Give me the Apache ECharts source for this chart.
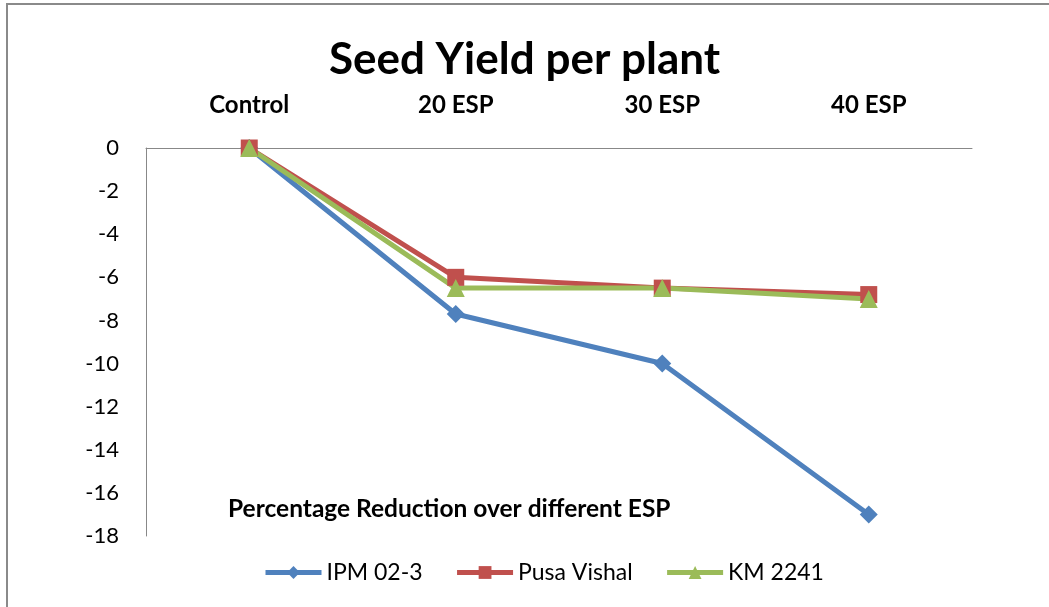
<!DOCTYPE html>
<html>
<head>
<meta charset="utf-8">
<script src="https://cdn.jsdelivr.net/npm/echarts@6/dist/echarts.min.js"></script>
<style>
html,body{margin:0;padding:0;background:#fff;}
#chart{width:1049px;height:607px;}
</style>
</head>
<body>
<div id="chart"></div>
<script>
const categories = ['Control', '20 ESP', '30 ESP', '40 ESP'];
const ipm023 = [0, -7.7, -10.0, -17.0];
const pusaVishal = [0, -6.0, -6.5, -6.8];
const km2241 = [0, -6.5, -6.5, -7.0];
const seriesNames = ['IPM 02-3', 'Pusa Vishal', 'KM 2241'];

const FONT = 'Lato';
const chart = echarts.init(document.getElementById('chart'), null, {renderer: 'canvas'});
const mk = (name, data, color, symbol, size) => ({
  name, type: 'line', data,
  symbol, symbolSize: size,
  lineStyle: {color, width: 5},
  itemStyle: {color},
  emphasis: {disabled: true},
  animation: false
});
chart.setOption({
  backgroundColor: '#fff',
  animation: false,
  textStyle: {fontFamily: FONT},
  title: {
    text: 'Seed Yield per plant',
    left: 'center', top: 33,
    textStyle: {fontFamily: FONT, fontSize: 44, fontWeight: 'bold', color: '#000'}
  },
  graphic: [
    {type: 'rect', shape: {x: 7, y: 4, width: 1100, height: 700},
     style: {fill: 'none', stroke: '#8a8a8a', lineWidth: 2}, silent: true},
    {type: 'text', left: 228, top: 497,
     style: {text: 'Percentage Reduction over different ESP', font: 'bold 24.5px ' + FONT, fill: '#000'}}
  ],
  legend: {
    top: 556, left: 258,
    itemWidth: 56, itemHeight: 16, itemGap: 32,
    lineStyle: {width: 5},
    textStyle: {fontFamily: FONT, fontSize: 23, color: '#000'},
    data: seriesNames
  },
  grid: {left: 146, right: 77, top: 148, bottom: 71},
  xAxis: {
    type: 'category', position: 'top', data: categories,
    axisLine: {show: true, lineStyle: {color: '#888', width: 1}},
    axisTick: {show: false},
    axisLabel: {fontFamily: FONT, fontSize: 24, fontWeight: 'bold', color: '#000', margin: 31},
    splitLine: {show: false}
  },
  yAxis: {
    type: 'value', min: -18, max: 0, interval: 2,
    axisLine: {show: true, lineStyle: {color: '#888', width: 1}},
    axisTick: {show: false},
    axisLabel: {fontFamily: FONT, fontSize: 22, color: '#000', margin: 27},
    splitLine: {show: false}
  },
  series: [
    mk(seriesNames[0], ipm023, '#4F81BD', 'diamond', 18),
    mk(seriesNames[1], pusaVishal, '#C0504D', 'rect', 17),
    mk(seriesNames[2], km2241, '#9BBB59', 'triangle', 18)
  ]
});
</script>
</body>
</html>
